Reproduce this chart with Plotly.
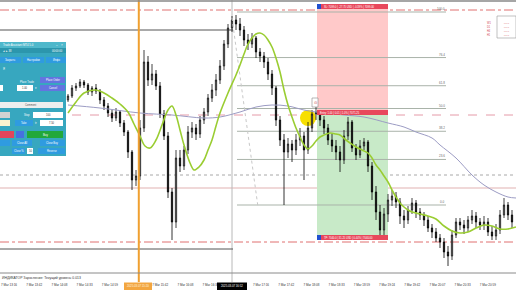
import plotly.graph_objects as go

W, H = 516, 290
PLOT_H = 282
FONT = "Liberation Sans"

# ---------------- data ----------------
bar_idx = list(range(112))
opens = [7075.0, 7076.0, 7078.0, 7078.5, 7079.5, 7078.75, 7077.0, 7078.0, 7077.25, 7075.0,
         7073.5, 7071.75, 7070.5, 7072.0, 7069.25, 7067.0, 7062.0, 7055.0, 7056.0, 7068.0,
         7084.5, 7080.0, 7081.5, 7078.5, 7071.5, 7066.0, 7052.0, 7044.5, 7060.5, 7058.5,
         7062.5, 7067.0, 7068.0, 7066.5, 7070.0, 7072.0, 7075.5, 7077.5, 7080.0, 7083.5,
         7089.0, 7093.0, 7095.0, 7094.0, 7092.5, 7090.0, 7089.0, 7090.5, 7087.0, 7086.0,
         7084.5, 7081.5, 7078.0, 7070.0, 7065.0, 7062.0, 7064.0, 7062.5, 7065.0, 7066.0,
         7062.5, 7068.0, 7071.5, 7072.0, 7070.0, 7068.0, 7065.0, 7063.5, 7062.0, 7060.0,
         7066.0, 7069.5, 7063.0, 7061.25, 7063.5, 7064.5, 7058.5, 7052.0, 7047.0, 7042.5,
         7046.5, 7050.0, 7051.0, 7049.5, 7046.0, 7045.0, 7047.5, 7049.25, 7047.0, 7046.25,
         7045.0, 7043.0, 7042.0, 7040.5, 7039.5, 7037.0, 7036.0, 7041.25, 7044.5, 7043.75,
         7043.0, 7045.0, 7046.0, 7044.5, 7043.75, 7044.5, 7042.0, 7041.0, 7042.5, 7046.25,
         7048.75, 7046.25]
closes = [7076.0, 7078.0, 7078.5, 7079.5, 7078.75, 7077.0, 7078.0, 7077.25, 7075.0, 7073.5,
          7071.75, 7070.5, 7072.0, 7069.25, 7067.0, 7062.0, 7055.0, 7056.0, 7068.0, 7084.5,
          7080.0, 7081.5, 7078.5, 7071.5, 7066.0, 7052.0, 7044.5, 7060.5, 7058.5, 7062.5,
          7067.0, 7068.0, 7066.5, 7070.0, 7072.0, 7075.5, 7077.5, 7080.0, 7083.5, 7089.0,
          7093.0, 7095.0, 7094.0, 7092.5, 7090.0, 7089.0, 7090.5, 7087.0, 7086.0, 7084.5,
          7081.5, 7078.0, 7070.0, 7065.0, 7062.0, 7064.0, 7062.5, 7065.0, 7066.0, 7062.5,
          7068.0, 7071.5, 7072.0, 7070.0, 7068.0, 7065.0, 7063.5, 7062.0, 7060.0, 7066.0,
          7069.5, 7063.0, 7061.25, 7063.5, 7064.5, 7058.5, 7052.0, 7047.0, 7042.5, 7046.5,
          7050.0, 7051.0, 7049.5, 7046.0, 7045.0, 7047.5, 7049.25, 7047.0, 7046.25, 7045.0,
          7043.0, 7042.0, 7040.5, 7039.5, 7037.0, 7036.0, 7041.25, 7044.5, 7043.75, 7043.0,
          7045.0, 7046.0, 7044.5, 7043.75, 7044.5, 7042.0, 7041.0, 7042.5, 7046.25, 7048.75,
          7046.25, 7044.5]
highs = [7076.5, 7078.75, 7079.25, 7080.25, 7080.0, 7079.25, 7078.5, 7079.0, 7077.75, 7075.75,
         7074.25, 7072.5, 7073.0, 7072.5, 7070.0, 7067.5, 7062.5, 7057.5, 7070.0, 7087.5,
         7086.0, 7084.0, 7082.5, 7079.5, 7072.5, 7067.0, 7053.0, 7062.5, 7062.5, 7063.5,
         7068.5, 7069.5, 7069.0, 7071.0, 7073.0, 7076.5, 7079.0, 7081.5, 7085.0, 7090.0,
         7094.0, 7096.0, 7096.25, 7095.5, 7093.5, 7091.5, 7091.75, 7091.0, 7088.0, 7087.0,
         7085.5, 7082.5, 7078.5, 7071.0, 7066.5, 7065.5, 7065.0, 7066.5, 7068.0, 7067.0,
         7069.5, 7072.5, 7074.0, 7072.5, 7071.0, 7069.0, 7066.5, 7065.0, 7063.5, 7067.5,
         7070.75, 7070.0, 7064.0, 7065.0, 7065.5, 7065.0, 7059.5, 7053.5, 7048.75, 7048.0,
         7051.5, 7052.5, 7052.0, 7050.5, 7047.5, 7048.5, 7050.5, 7050.0, 7048.0, 7047.0,
         7046.0, 7044.0, 7043.0, 7041.5, 7040.5, 7038.5, 7042.5, 7045.5, 7045.5, 7045.0,
         7046.0, 7047.5, 7047.0, 7045.5, 7046.0, 7045.5, 7043.5, 7044.0, 7047.5, 7050.5,
         7049.5, 7047.5]
lows = [7074.5, 7075.5, 7077.25, 7078.0, 7078.0, 7076.25, 7076.0, 7076.5, 7074.0, 7072.5,
        7070.75, 7069.5, 7069.75, 7068.25, 7066.0, 7060.5, 7052.5, 7053.5, 7055.0, 7067.0,
        7078.5, 7078.75, 7077.5, 7070.5, 7065.0, 7050.5, 7040.0, 7043.0, 7057.0, 7057.5,
        7061.5, 7065.5, 7065.0, 7065.5, 7069.0, 7071.0, 7074.5, 7076.0, 7079.0, 7082.5,
        7088.0, 7092.0, 7092.5, 7091.0, 7088.5, 7087.5, 7088.0, 7085.5, 7084.5, 7083.0,
        7080.0, 7076.25, 7068.5, 7063.5, 7048.75, 7060.5, 7059.5, 7061.25, 7063.5, 7055.0,
        7061.5, 7067.0, 7070.0, 7068.5, 7066.5, 7063.75, 7062.0, 7060.0, 7057.0, 7059.0,
        7065.0, 7062.0, 7060.0, 7060.5, 7062.5, 7057.0, 7050.0, 7045.0, 7040.5, 7041.0,
        7044.5, 7048.5, 7048.0, 7044.0, 7043.0, 7044.0, 7046.5, 7045.5, 7045.0, 7043.5,
        7042.0, 7040.5, 7039.5, 7038.0, 7035.5, 7033.5, 7035.0, 7040.5, 7042.5, 7041.5,
        7042.0, 7044.0, 7043.0, 7042.5, 7042.5, 7041.0, 7040.0, 7040.0, 7041.5, 7045.5,
        7045.0, 7043.0]

green_ma_x = [0, 2, 4, 7, 9, 11, 13, 15, 16.5, 18, 19.25, 20.5, 22, 23.5, 25, 26, 27, 28, 29,
              30.5, 31.5, 32.75, 34, 35, 36, 37, 38, 40, 42, 43, 44, 45, 46, 47, 48, 49, 50,
              51, 52, 53, 54, 55, 56, 57, 58, 59, 60, 61, 62, 63, 64, 65.5, 67, 68, 69.5,
              70.5, 72, 73.5, 75, 76, 77, 78, 79, 80, 81, 82, 83, 84, 85, 86, 88, 90, 92,
              94, 96, 98, 100, 102, 104, 106, 108, 110, 112]
green_ma_y = [7071.75, 7074.5, 7076.75, 7077.5, 7076.75, 7075.5, 7074.0, 7072.0, 7069.0,
              7066.0, 7063.5, 7063.0, 7065.0, 7068.75, 7072.5, 7073.5, 7071.25, 7067.5,
              7063.75, 7059.25, 7057.5, 7058.25, 7060.0, 7062.5, 7065.0, 7068.5, 7071.75,
              7076.75, 7081.25, 7083.75, 7086.5, 7089.0, 7090.5, 7091.5, 7091.75, 7091.25,
              7090.0, 7088.25, 7085.5, 7082.0, 7077.5, 7073.75, 7070.75, 7068.0, 7065.75,
              7063.75, 7062.75, 7063.5, 7064.75, 7065.75, 7066.25, 7066.75, 7066.5, 7066.25,
              7065.0, 7064.25, 7063.25, 7062.5, 7061.75, 7060.5, 7058.75, 7057.5, 7056.0,
              7054.5, 7052.5, 7050.75, 7049.25, 7048.25, 7047.5, 7047.0, 7046.5, 7046.0,
              7045.25, 7043.5, 7042.25, 7041.75, 7042.0, 7043.0, 7043.75, 7043.5, 7042.75,
              7042.75, 7043.25]
purple_ma_x = [0, 8, 18, 26, 34, 38, 43, 47, 51, 55, 59, 62, 69, 74, 80, 84, 87, 91, 93,
               97, 101, 104, 107, 110, 112]
purple_ma_y = [7073.75, 7073.0, 7071.75, 7071.25, 7070.5, 7070.75, 7072.0, 7073.25, 7073.75,
               7073.5, 7072.5, 7072.0, 7071.25, 7070.75, 7069.25, 7068.25, 7067.0, 7065.5,
               7063.75, 7060.5, 7056.25, 7053.75, 7052.0, 7050.75, 7050.5]

fib_levels = [0.0, 23.6, 38.2, 50.0, 61.8, 76.4, 100.0]
fib_labels = ["0.0", "23.6", "38.2", "50.0", "61.8", "76.4", "100.0"]
fib_low, fib_high = 7048.75, 7097.0
fib_start, fib_end = 42.25, 94.5
fib_diag_x = [41.0, 47.5]
fib_diag_y = [7095.5, 7048.25]

pos_start, pos_end = 62.25, 80.0
sl_price, entry_price, tp_price = 7099.0, 7071.25, 7040.0
sl_text = "SL: 7099.0 | -27.75 USD | -0.39% | 7099.00"
entry_text = "Entry: 1.00 | 0.01 | 1.0% | 7071.25"
tp_text = "TP: 7040.0 | 31.25 USD | 0.44% | 7040.00"

level_prices = [7097.5, 7071.25, 7056.25, 7053.0, 7039.5]
box_top, box_bottom, box_end = 7092.5, 7037.75, 41.25
orange_idx, gray_idx = 17.7, 41.0
signal_x, signal_y = 60.0, 7070.5

tick_idx = [-14.75, -8.45, -2.15, 4.15, 10.45, 23.05, 29.35, 35.65, 48.25, 54.55, 60.85,
            67.15, 73.45, 79.75, 86.05, 92.35, 98.65, 104.95, 111.25]
tick_text = ["7 Mar 13:16", "7 Mar 13:42", "7 Mar 14:08", "7 Mar 14:33", "7 Mar 14:59",
             "7 Mar 15:42", "7 Mar 16:08", "7 Mar 16:34", "7 Mar 17:16", "7 Mar 17:42",
             "7 Mar 18:08", "7 Mar 18:33", "7 Mar 18:59", "7 Mar 19:24", "7 Mar 19:42",
             "7 Mar 20:07", "7 Mar 20:33", "7 Mar 20:59", "7 Mar 21:24"]
orange_label = "2025.03.07 15:20"
gray_label = "2025.03.07 16:52"
indicator_text = "ИНДИКАТОР Заросление: Текущий уровень 0.013"

X_RANGE = [-17, 112]
Y_RANGE = [7029.5, 7100.0]

# ---------------- figure ----------------
fig = go.Figure()
shapes = []
ann = []


def px(x):
    return x / W


def py(y):
    return 1 - y / PLOT_H


def prect(x0, y0, x1, y1, color, lc=None, lw=0):
    shapes.append(dict(type="rect", xref="paper", yref="paper", x0=px(x0), x1=px(x1),
                       y0=py(y1), y1=py(y0), fillcolor=color,
                       line=dict(color=lc or color, width=lw), layer="above"))


def ptxt(x, y, s, color="white", size=3, anchor="center"):
    ann.append(dict(xref="paper", yref="paper", x=px(x), y=py(y), text=s, showarrow=False,
                    font=dict(size=size, color=color, family=FONT), xanchor=anchor,
                    yanchor="middle", borderpad=0))


# position tool zones
shapes.append(dict(type="rect", xref="x", yref="y", x0=pos_start, x1=pos_end, y0=entry_price,
                   y1=sl_price, fillcolor="#ffc9c9", line=dict(width=0), layer="below"))
shapes.append(dict(type="rect", xref="x", yref="y", x0=pos_start, x1=pos_end, y0=tp_price,
                   y1=entry_price, fillcolor="#c8eac8", line=dict(width=0), layer="below"))

# horizontal price levels
level_colors = ["#e07070", "#e59aa8", "#a8a8a8", "#f0d8d8", "#e07070"]
level_dash = ["dashdot", "dash", "dot", "solid", "dashdot"]
level_width = [1, 1, 1, 2, 1]
for p, c, d, w in zip(level_prices, level_colors, level_dash, level_width):
    shapes.append(dict(type="line", xref="paper", yref="y", x0=0, x1=1, y0=p, y1=p,
                       line=dict(color=c, width=w, dash=d), layer="below"))

# fibonacci levels
for lv, lab in zip(fib_levels, fib_labels):
    p = fib_low + (fib_high - fib_low) * lv / 100.0
    shapes.append(dict(type="line", xref="x", yref="y", x0=fib_start, x1=fib_end, y0=p, y1=p,
                       line=dict(color="#a9b3a9", width=1), layer="below"))
    ann.append(dict(xref="x", yref="y", x=fib_end, y=p, text=lab, showarrow=False,
                    font=dict(size=3, color="#666", family=FONT), xanchor="right",
                    yanchor="bottom", borderpad=0))

# black box lines
for p in (box_top, box_bottom):
    shapes.append(dict(type="line", xref="x", yref="y", x0=X_RANGE[0], x1=box_end, y0=p, y1=p,
                       line=dict(color="#555555", width=1), layer="below"))

# vertical markers
shapes.append(dict(type="line", xref="x", yref="paper", x0=gray_idx, x1=gray_idx, y0=0, y1=1,
                   line=dict(color="#b8b8b8", width=1), layer="below"))
shapes.append(dict(type="circle", xref="x", yref="y", x0=signal_x - 2, x1=signal_x + 2,
                   y0=signal_y - 2, y1=signal_y + 2, fillcolor="#f7df00",
                   line=dict(width=0), layer="below"))

# fib diagonal
fig.add_trace(go.Scatter(x=fib_diag_x, y=fib_diag_y, mode="lines",
                         line=dict(color="#c8c8c8", width=1, dash="dot"), hoverinfo="skip"))

fig.add_trace(go.Candlestick(
    x=bar_idx, open=opens, high=highs, low=lows, close=closes,
    increasing=dict(line=dict(color="#111111", width=0.8), fillcolor="#9a9a9a"),
    decreasing=dict(line=dict(color="#000000", width=0.8), fillcolor="#000000"),
    whiskerwidth=0))

fig.add_trace(go.Scatter(x=purple_ma_x, y=purple_ma_y, mode="lines",
                         line=dict(color="#9c9cc4", width=1, shape="spline"), hoverinfo="skip"))
fig.add_trace(go.Scatter(x=green_ma_x, y=green_ma_y, mode="lines",
                         line=dict(color="#9acd32", width=1.6, shape="spline"), hoverinfo="skip"))

# orange vertical line (above)
shapes.append(dict(type="line", xref="x", yref="paper", x0=orange_idx, x1=orange_idx, y0=0,
                   y1=1, line=dict(color="#f0a030", width=2), layer="above"))

# position labels
for p_top, p_bot, txt, xs in ((sl_price, sl_price - 1.25, sl_text, pos_start + 1.0),
                              (entry_price + 1.25, entry_price, entry_text, pos_start),
                              (tp_price + 1.25, tp_price, tp_text, pos_start + 1.0)):
    shapes.append(dict(type="rect", xref="x", yref="y", x0=xs, x1=pos_end, y0=p_bot, y1=p_top,
                       fillcolor="#e8485c", line=dict(width=0), layer="above"))
    ann.append(dict(xref="x", yref="y", x=xs + 0.5, y=(p_top + p_bot) / 2, text=txt,
                    showarrow=False, font=dict(size=2.6, color="white", family=FONT),
                    xanchor="left", yanchor="middle", borderpad=0))
for p_top in (sl_price, tp_price + 1.25):
    shapes.append(dict(type="rect", xref="x", yref="y", x0=pos_start, x1=pos_start + 1.0,
                       y0=p_top - 1.25, y1=p_top, fillcolor="#2050d0", line=dict(width=0),
                       layer="above"))
# small signal icon box
shapes.append(dict(type="rect", xref="x", yref="y", x0=61.0, x1=62.5, y0=7073.25, y1=7075.5,
                   fillcolor="white", line=dict(color="#888", width=0.6), layer="above"))
ann.append(dict(xref="x", yref="y", x=61.75, y=7074.4, text="⊙", showarrow=False,
                font=dict(size=4, color="#c04040", family=FONT), borderpad=0))

# chart frame lines
shapes.append(dict(type="line", xref="paper", yref="paper", x0=0, x1=1, y0=py(1), y1=py(1),
                   line=dict(color="#888", width=1.5)))
shapes.append(dict(type="line", xref="paper", yref="paper", x0=0, x1=1, y0=py(273),
                   y1=py(273), line=dict(color="#8a8a8a", width=1)))
ptxt(1, 278, indicator_text, color="#333", size=3.4, anchor="left")

# ---------------- trade panel ----------------
TEAL = "#37a7bf"
BTN = "#2f9be0"
prect(0, 42, 66, 156, TEAL)
prect(0, 42, 66, 48, "#4fb8cb")
ptxt(2, 45, "Trade Assistant MT4 5.0", anchor="left", size=2.8)
ptxt(57, 45, "–", size=3)
ptxt(62, 45, "×", size=3)
prect(0, 48, 66, 53, "#2c96ad")
ptxt(2, 50.5, "◂ ▸ 38", anchor="left", size=2.6)
ptxt(64, 50.5, "00:00:00", anchor="right", size=2.6)
prect(0, 57, 21, 63, BTN)
prect(23, 57, 44, 63, BTN)
prect(46, 57, 66, 63, BTN)
ptxt(10.5, 60, "Закрыть", size=2.6)
ptxt(33.5, 60, "Настройки", size=2.6)
ptxt(56, 60, "Инфо", size=2.6)
ptxt(2, 68.5, "Я", anchor="left", size=2.6)
prect(40, 77, 65, 83, "#6474e0")
prect(40, 85, 65, 91, "#6474e0")
ptxt(52.5, 80, "Place Order", size=2.6)
ptxt(52.5, 88, "Cancel", size=2.6)
ptxt(27, 82, "Place Trade", size=2.6)
prect(0, 85, 3, 91, "white")
prect(17, 85, 33, 91, "white")
ptxt(25, 88, "1.00", color="#333", size=2.6)
ptxt(35.5, 88, "▾", size=2.6)
prect(0, 102, 63, 108, "#eeeeee")
ptxt(31, 105, "Comment", color="#555", size=2.6)
prect(0, 112, 10, 118, "#d2d2d2")
ptxt(27, 115, "Stop", size=2.6)
prect(33, 112, 63, 118, "white")
ptxt(48, 115, "100", color="#333", size=2.6)
prect(0, 120, 10, 126, "#fbf4cf")
prect(15, 120, 33, 126, BTN)
ptxt(24, 123, "Take", size=2.6)
ptxt(36, 123, "tr", size=2.6)
prect(40, 120, 63, 126, "white")
ptxt(51.5, 123, "7.50", color="#333", size=2.6)
prect(0, 131, 14, 138, "#e2455a")
prect(16, 131, 24, 138, "#4670e0")
prect(27, 131, 63, 138, "#22a83a")
ptxt(45, 134.5, "Buy", size=2.8)
prect(0, 140, 10, 146, BTN)
prect(12, 140, 32, 146, BTN)
prect(40, 140, 65, 146, BTN)
ptxt(22, 143, "Close All", size=2.6)
ptxt(52.5, 143, "Close Buy", size=2.6)
prect(12, 148, 25, 154, BTN)
prect(27, 148, 33, 154, "white")
prect(38, 148, 65, 154, BTN)
ptxt(18.5, 151, "Close %", size=2.6)
ptxt(30, 151, "50", color="#333", size=2.6)
ptxt(51.5, 151, "Reverse", size=2.6)

# top-right mini table
prect(497, 16, 516, 38, "rgba(0,0,0,0)", lc="#999", lw=0.6)
for i, tf in enumerate(["W1", "D1", "H4", "H1"]):
    ptxt(489, 23 + 4 * i, tf, color="#d04050", size=2.6)
    ptxt(506, 23 + 4 * i, "▪ ▪ ▪ ▪", color="#d04050", size=2.2)

# axis tag boxes
prect(124, 282.5, 152, 290, "#f3a640")
ptxt(138, 286.3, orange_label, color="#fff6e0", size=2.8)
prect(217, 282.5, 247, 290, "#000000")
ptxt(232, 286.3, gray_label, color="white", size=2.8)

fig.update_layout(
    width=W, height=H, margin=dict(l=0, r=0, t=0, b=H - PLOT_H),
    paper_bgcolor="white", plot_bgcolor="white", showlegend=False,
    shapes=shapes, annotations=ann, boxgap=0.55,
    xaxis=dict(range=X_RANGE, showgrid=False, zeroline=False, showline=False,
               rangeslider=dict(visible=False), tickmode="array", tickvals=tick_idx,
               ticktext=tick_text, ticks="", tickfont=dict(size=3, color="#333", family=FONT),
               automargin=False, fixedrange=True),
    yaxis=dict(range=Y_RANGE, visible=False, showgrid=False, zeroline=False,
               automargin=False, fixedrange=True),
    font=dict(family=FONT),
)

fig.write_html("out.html")
